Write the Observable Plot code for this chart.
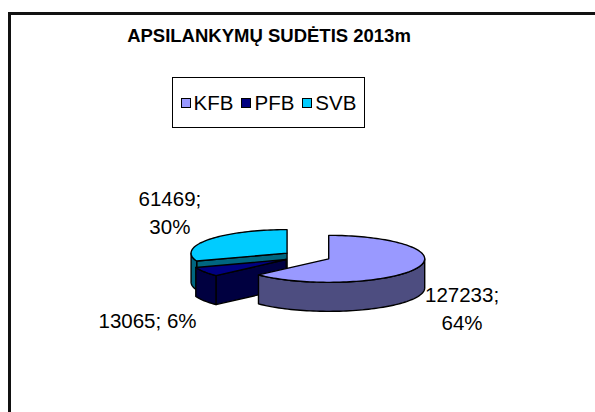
<!DOCTYPE html>
<html>
<head>
<meta charset="utf-8">
<script src="https://cdn.jsdelivr.net/npm/d3@7"></script>
<script src="https://cdn.jsdelivr.net/npm/@observablehq/plot@0.6"></script>
<style>
  body { margin: 0; background: #fff; font-family: "Liberation Sans", Arial, sans-serif; }
  #wrap { position: relative; width: 595px; height: 412px; overflow: hidden; background: #fff; }
  #frame { position: absolute; left: 8px; top: 12px; width: 620px; height: 440px;
           border-left: 3px solid #111; border-top: 3px solid #111; }
  #title { position: absolute; left: 0; top: 26px; width: 538px; text-align: center;
           font-weight: bold; font-size: 18.5px; line-height: 20px; color: #000; white-space: nowrap; }
  #legend { position: absolute; left: 172px; top: 77px; width: 193px; height: 51px; box-sizing: border-box;
            border: 1px solid #000; display: flex; align-items: center; justify-content: center; background: #fff; }
  #legend .item { display: flex; align-items: center; margin: 0 4px; }
  #legend .sw { width: 10px; height: 10px; box-sizing: border-box; border: 1px solid #000; margin-right: 3px; }
  #legend .lab { font-size: 20.5px; line-height: 20px; color: #000; }
  #chart { position: absolute; left: 0; top: 140px; }
</style>
</head>
<body>
<div id="wrap">
  <div id="frame"></div>
  <div id="title"></div>
  <div id="legend"></div>
  <div id="chart"></div>
</div>
<script>
// ---- data ----
const title = "APSILANKYMŲ SUDĖTIS 2013m";
const categories = ["KFB", "PFB", "SVB"];
const values = [127233, 13065, 61469];
const percentLabels = ["64%", "6%", "30%"];
const labelSeparators = ["\n", " ", "\n"];

// ---- styles ----
const colors = ["#9999FF", "#000080", "#00CCFF"];
const sideColors = ["#4D4D80", "#000040", "#006680"];
const FS = 20.5, LH = 1.38;
const FONT = "Liberation Sans, Arial, sans-serif";

// ---- layout ----
const W = 595, H = 272;
const G = { cx: 306.2, cy: 116, rx: 96, ry: 23.5, depth: 29, explode: 24,
            labelRx: 105, labelRy: 92.7, labelDy: 13.5 };

document.getElementById("title").textContent = title;
const legend = document.getElementById("legend");
categories.forEach((c, i) => {
  const it = document.createElement("div"); it.className = "item";
  const sw = document.createElement("div"); sw.className = "sw"; sw.style.background = colors[i];
  const lb = document.createElement("span"); lb.className = "lab"; lb.textContent = c;
  it.appendChild(sw); it.appendChild(lb); legend.appendChild(it);
});

const arcs = d3.pie().sort(null).value(d => d)(values);
const slices = arcs.map((a, i) => {
  const mid = (a.startAngle + a.endAngle) / 2;
  return {
    i, a0: a.startAngle, a1: a.endAngle, mid,
    ox: G.cx + G.explode * Math.sin(mid),
    oy: G.cy - G.explode * Math.cos(mid) * G.ry / G.rx
  };
});

function rim(s, t, down = 0) {
  return { x: s.ox + G.rx * Math.sin(t), y: s.oy - G.ry * Math.cos(t) + down };
}
function arcPts(s, t0, t1, down = 0) {
  const n = Math.max(2, Math.ceil(Math.abs(t1 - t0) / (Math.PI / 90)));
  return d3.range(n + 1).map(k => rim(s, t0 + (t1 - t0) * k / n, down));
}

const polys = [];
for (const s of [...slices].reverse()) {
  const c = { x: s.ox, y: s.oy }, cd = { x: s.ox, y: s.oy + G.depth };
  [[s.a0, s.a0 - Math.PI / 2], [s.a1, s.a1 + Math.PI / 2]].forEach(([t, n]) => {
    if (Math.cos(n) < -1e-6) {
      polys.push({ pts: [c, rim(s, t), rim(s, t, G.depth), cd], fill: sideColors[s.i] });
    }
  });
  const f0 = Math.max(s.a0, Math.PI / 2), f1 = Math.min(s.a1, 3 * Math.PI / 2);
  if (f1 > f0) {
    polys.push({ pts: [...arcPts(s, f0, f1), ...arcPts(s, f0, f1, G.depth).reverse()], fill: sideColors[s.i] });
  }
  polys.push({ pts: [c, ...arcPts(s, s.a0, s.a1)], fill: colors[s.i] });
}

const ctx = document.createElement("canvas").getContext("2d");
ctx.font = `${FS}px "Liberation Sans", Arial, sans-serif`;
const labelRows = [];
slices.forEach(s => {
  const text = values[s.i] + ";" + labelSeparators[s.i] + percentLabels[s.i];
  const lines = text.split("\n");
  const w = d3.max(lines, l => ctx.measureText(l).width);
  const side = Math.sin(s.mid) >= 0 ? 1 : -1;
  const edge = s.ox + G.labelRx * Math.sin(s.mid);
  const xc = edge + side * w / 2;
  const yc = s.oy - G.labelRy * Math.cos(s.mid) + G.labelDy;
  lines.forEach((l, k) => labelRows.push({ text: l, x: xc, y: yc + (k - (lines.length - 1) / 2) * FS * LH }));
});

const chart = Plot.plot({
  width: W, height: H, margin: 0,
  x: { domain: [0, W], range: [0, W], axis: null },
  y: { domain: [0, H], range: [0, H], axis: null },
  style: { background: "transparent", overflow: "visible" },
  marks: [
    ...polys.map(p => Plot.line(p.pts, {
      x: "x", y: "y", fill: p.fill, stroke: "#000", strokeWidth: 1.4,
      curve: "linear-closed", strokeLinejoin: "round"
    })),
    Plot.text(labelRows, {
      x: "x", y: "y", text: "text", fontSize: FS, fontFamily: FONT,
      fill: "#000", textAnchor: "middle"
    })
  ]
});
document.getElementById("chart").appendChild(chart);
</script>
</body>
</html>
